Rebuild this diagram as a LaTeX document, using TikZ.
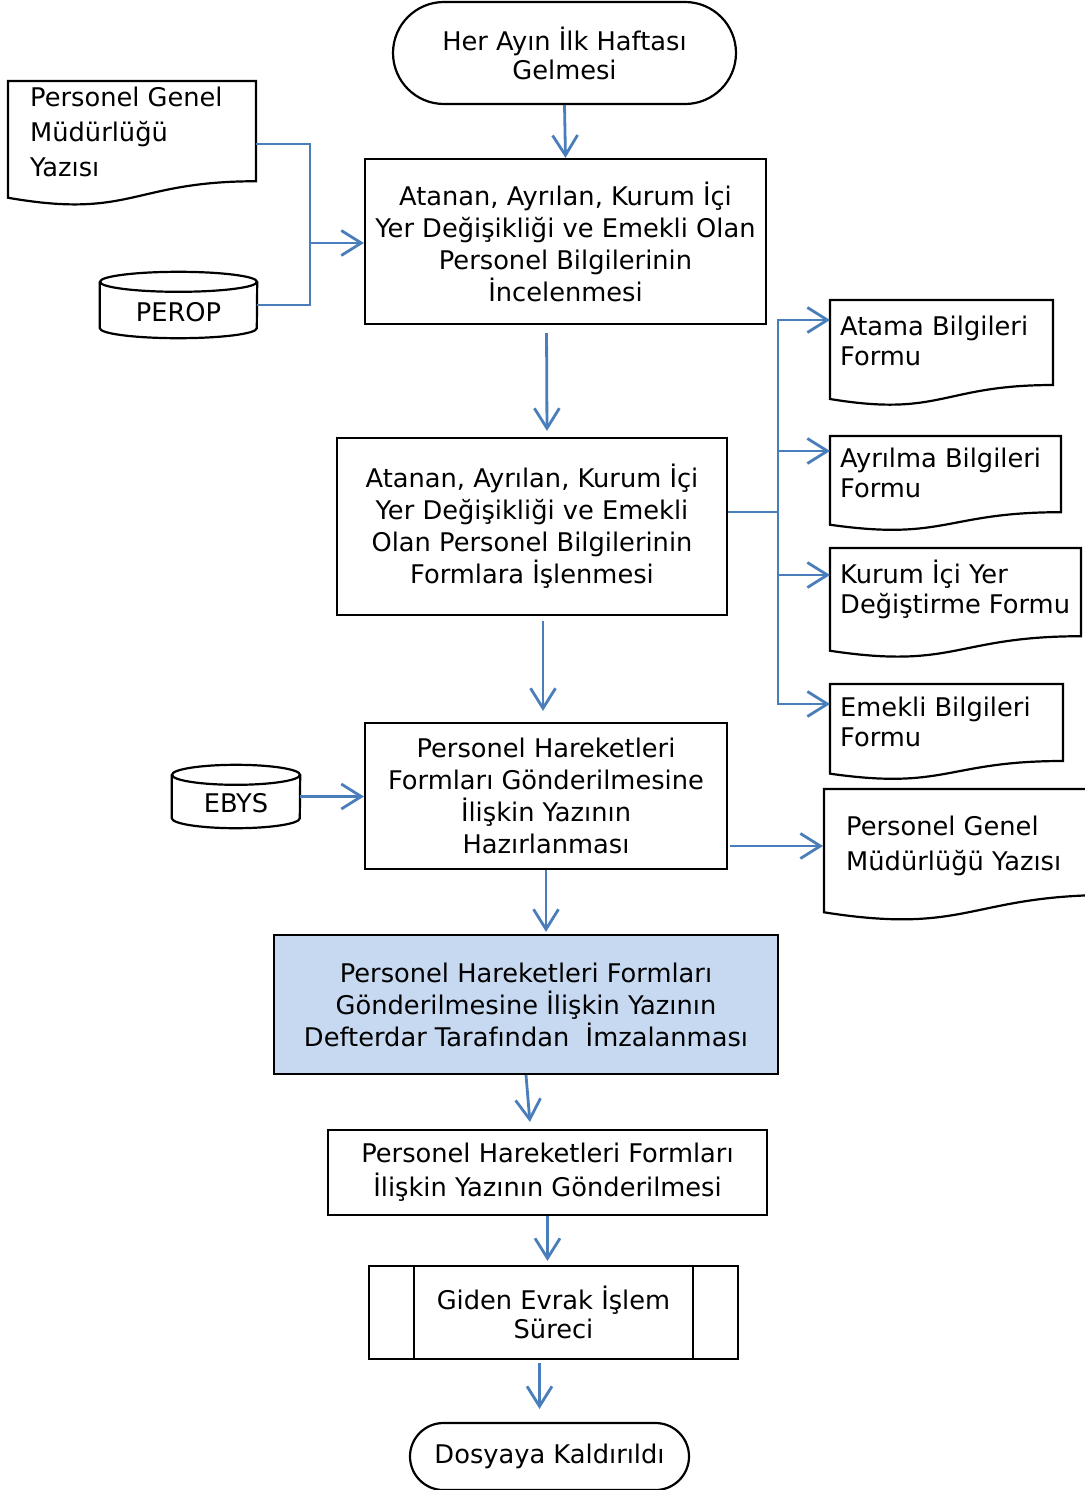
\documentclass[tikz,border=0pt]{standalone}
\usepackage{fontspec}
\setmainfont{DejaVu Sans}
\usetikzlibrary{positioning,calc,arrows.meta,shapes.misc}
\definecolor{flowblue}{HTML}{4A7EBB}
\definecolor{signfill}{HTML}{C6D9F1}

% document outline drawn round an empty frame node
\newcommand{\docframe}[2]{%
  \draw[line width=2.2pt] (#1.north west) -- (#1.north east)
    -- ($(#1.north east)+(0,{0.802*#2})$)
    .. controls ($(#1.north)+(0,{0.802*#2})$) and ($(#1.north)+(0,{1.1075*#2})$)
    .. ($(#1.north west)+(0,{0.934*#2})$) -- cycle;}
% database drum drawn round its node
\newcommand{\dbframe}[2]{%
  \draw[line width=2.2pt] ([yshift=-10pt]#1.north west) -- ([yshift=10pt]#1.south west)
    arc[start angle=180, end angle=360, x radius=#2pt, y radius=10pt] -- ([yshift=-10pt]#1.north east);
  \draw[line width=2.2pt] ([yshift=-10pt]#1.north) ellipse [x radius=#2pt, y radius=10pt];}

\begin{document}
\begin{tikzpicture}[
		x=1pt, y=-1pt,
		every node/.style={font=\fontsize{25.7}{32}\selectfont, inner sep=0},
		procbox/.style={draw, line width=2.2pt, align=center},
		terminal/.style={rounded rectangle, draw, line width=2.2pt, align=center},
		dbarea/.style={draw=none, text height=32pt, text depth=0pt},
		docarea/.style={anchor=north west, draw=none, outer sep=0},
		doctext/.style={align=left},
		flow/.style={flowblue, line width=2.8pt},
		flowarrow/.style={flow, -{Straight Barb[length=20pt,width=25pt]}},
	]
	\useasboundingbox (0,0) rectangle (1084,1490);

	% main column
	\node[terminal, minimum width=343pt, minimum height=102pt,
		font=\fontsize{25.7}{29}\selectfont] (start) at (564.5,53) {Her Ayın İlk Haftası\\Gelmesi};
	\node[procbox, minimum width=401pt, minimum height=165pt] (box1) at (565.5,241.5)
		{Atanan, Ayrılan, Kurum İçi\\Yer Değişikliği ve Emekli Olan\\Personel Bilgilerinin\\İncelenmesi};
	\node[procbox, minimum width=390pt, minimum height=177pt] (box2) at (532,526.5)
		{Atanan, Ayrılan, Kurum İçi\\Yer Değişikliği ve Emekli\\Olan Personel Bilgilerinin\\Formlara İşlenmesi};
	\node[procbox, minimum width=362pt, minimum height=146pt] (box3) at (546,796)
		{Personel Hareketleri\\Formları Gönderilmesine\\İlişkin Yazının\\Hazırlanması};
	\node[procbox, fill=signfill, minimum width=504pt, minimum height=139pt] (box4) at (526,1004.5)
		{Personel Hareketleri Formları\\Gönderilmesine İlişkin Yazının\\Defterdar Tarafından\ \ İmzalanması};
	\node[procbox, minimum width=439pt, minimum height=85pt,
		font=\fontsize{25.7}{34}\selectfont] (box5) at (547.5,1172.5)
		{Personel Hareketleri Formları\\İlişkin Yazının Gönderilmesi};
	\node[procbox, minimum width=369pt, minimum height=93pt,
		font=\fontsize{25.7}{29}\selectfont] (box6) at (553.5,1312.5) {Giden Evrak İşlem\\Süreci};
	\draw[line width=2.2pt] ([xshift=46pt]box6.north west) -- ([xshift=46pt]box6.south west);
	\draw[line width=2.2pt] ([xshift=-46pt]box6.north east) -- ([xshift=-46pt]box6.south east);
	\node[terminal, minimum width=279pt, minimum height=67pt] (end) at (549.5,1456.5) {Dosyaya Kaldırıldı};

	% databases
	\node[dbarea, minimum width=157pt, minimum height=66pt] (perop) at (178.5,305) {PEROP};
	\dbframe{perop}{78.5}
	\node[dbarea, minimum width=128pt, minimum height=63pt] (ebys) at (236,796.5) {EBYS};
	\dbframe{ebys}{64}

	% documents
	\node[docarea, minimum width=248pt, minimum height=125pt] (lpgm) at (8,81) {};
	\docframe{lpgm}{125}
	\node[doctext, font=\fontsize{25.7}{35}\selectfont, below right=6pt and 22pt of lpgm.north west] (lpgmText)
		{Personel Genel\\Müdürlüğü\\Yazısı};

	\node[docarea, minimum width=223pt, minimum height=106pt] (atama) at (830,300) {};
	\docframe{atama}{106}
	\node[doctext, font=\fontsize{25.7}{30}\selectfont, below right=16pt and 10pt of atama.north west] (atamaText)
		{Atama Bilgileri\\Formu};

	\node[docarea, minimum width=231pt, minimum height=95pt] (ayrilma) at (830,436) {};
	\docframe{ayrilma}{95}
	\node[doctext, font=\fontsize{25.7}{30}\selectfont, below right=12pt and 10pt of ayrilma.north west] (ayrilmaText)
		{Ayrılma Bilgileri\\Formu};

	\node[docarea, minimum width=251pt, minimum height=110pt] (kurum) at (830,548) {};
	\docframe{kurum}{110}
	\node[doctext, font=\fontsize{25.7}{30}\selectfont, below right=12pt and 10pt of kurum.north west] (kurumText)
		{Kurum İçi Yer\\Değiştirme Formu};

	\node[docarea, minimum width=233pt, minimum height=96pt] (emekli) at (830,684) {};
	\docframe{emekli}{96}
	\node[doctext, font=\fontsize{25.7}{30}\selectfont, below right=13pt and 10pt of emekli.north west] (emekliText)
		{Emekli Bilgileri\\Formu};

	\node[docarea, minimum width=290pt, minimum height=132pt] (rpgm) at (824,789) {};
	\docframe{rpgm}{132}
	\node[doctext, font=\fontsize{25.7}{35}\selectfont, below right=27pt and 22pt of rpgm.north west] (rpgmText)
		{Personel Genel\\Müdürlüğü Yazısı};

	% connectors
	\coordinate (join) at (310,243);
	\coordinate (split) at (778,512);
	\draw[flowarrow] (start.south) -- (box1.north);
	\draw[flow] ([yshift=-63pt]lpgm.north east) -| (join);
	\draw[flow] (perop.east) -| (join);
	\draw[flowarrow] (join) -- (join -| box1.west);
	\draw[flowarrow, shorten <=8pt, shorten >=6pt] ([xshift=-19pt]box1.south) -- ([xshift=15pt]box2.north);
	\draw[flow] (split -| box2.east) -- (split);
	\foreach \doc/\off in {atama/20, ayrilma/15, kurum/27, emekli/20}
		\draw[flowarrow] (split) |- ([yshift=-\off pt]\doc.north west);
	\draw[flowarrow, shorten <=5pt, shorten >=11pt] ([xshift=11pt]box2.south) -- ([xshift=-3pt]box3.north);
	\draw[flowarrow] (ebys.east) -- (ebys.east -| box3.west);
	\draw[flowarrow, shorten <=2pt, shorten >=1pt] ([yshift=-50pt]box3.east) -- ([yshift=-50pt]box3.east -| rpgm.west);
	\draw[flowarrow, shorten >=2pt] (box3.south) -- (box3.south |- box4.north);
	\draw[flowarrow, shorten >=7pt] (box4.south) -- ([xshift=-17pt]box5.north);
	\draw[flowarrow, shorten >=4pt] (box5.south) -- (box5.south |- box6.north);
	\draw[flowarrow, shorten <=3pt, shorten >=13pt] ([xshift=-14pt]box6.south) -- ([xshift=-10pt]end.north);
\end{tikzpicture}
\end{document}
